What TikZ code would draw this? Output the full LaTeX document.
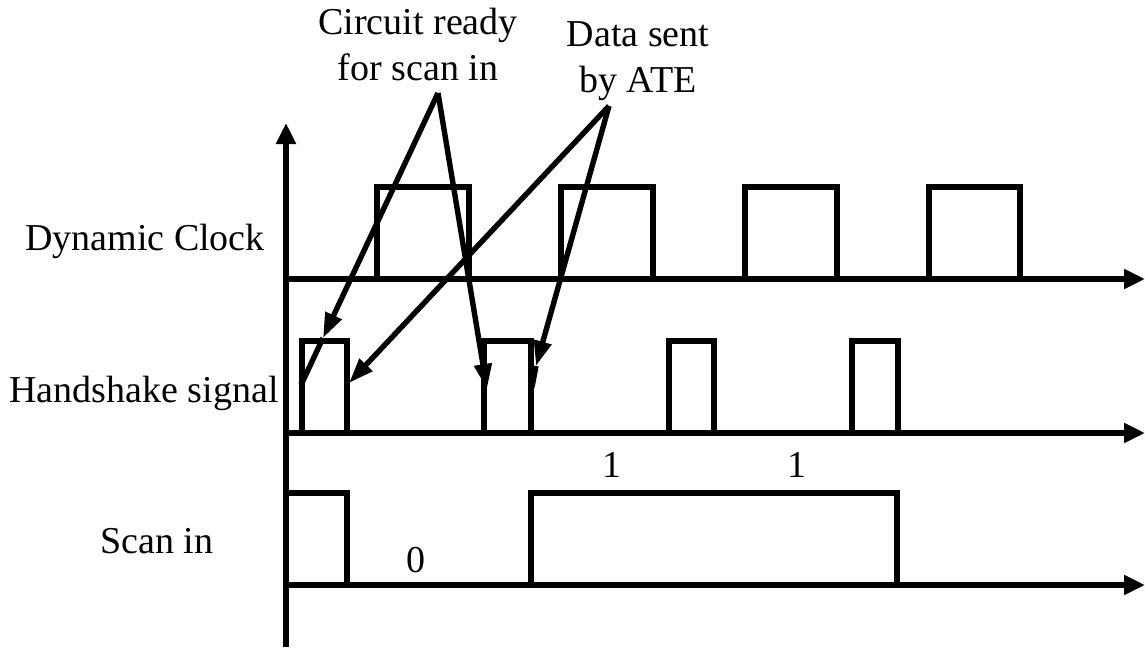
\documentclass[tikz,border=0pt]{standalone}
\usepackage{fontspec}
\setmainfont{Liberation Serif}
\usetikzlibrary{arrows.meta}
\begin{document}
\begin{tikzpicture}[x=1pt,y=-1pt,
  wave/.style={line width=5.4pt,line join=miter},
  axisline/.style={line width=5.4pt,-{Triangle[length=21pt,width=19pt]}},
  callout/.style={line width=5.4pt,-{Triangle[length=25pt,width=17pt]}},
  lbl/.style={inner sep=0pt,font=\fontsize{38}{46}\selectfont},
  ]
\useasboundingbox (0,0) rectangle (1145,648);
% axes
\coordinate (o) at (286,647);
\coordinate (ytop) at (286,123);
\draw[axisline] (o) -- (ytop);
\coordinate (c0) at (284,279);
\coordinate (c1) at (1145,279);
\coordinate (h0) at (284,433);
\coordinate (h1) at (1145,433);
\coordinate (s0) at (284,585);
\coordinate (s1) at (1145,585);
\draw[axisline] (c0) -- (c1);
\draw[axisline] (h0) -- (h1);
\draw[axisline] (s0) -- (s1);
% dynamic clock pulses
\foreach \a/\b in {377/469,561/653,745/837,929/1020}
  \draw[wave] (\a,279) -- (\a,187) -- (\b,187) -- (\b,279);
% handshake pulses
\foreach \a/\b in {302/347,484/531,669/714,852/898}
  \draw[wave] (\a,433) -- (\a,341) -- (\b,341) -- (\b,433);
% scan in
\draw[wave] (286,493) -- (347,493) -- (347,585);
\draw[wave] (531,585) -- (531,493) -- (897,493) -- (897,585);
% labels
\node[lbl,anchor=base] (dyn) at (145,250) {Dynamic Clock};
\node[lbl,anchor=base] (hs) at (144,402) {Handshake signal};
\node[lbl,anchor=base] (scan) at (157,553) {Scan in};
\node[lbl,anchor=base] (zero) at (416,572) {0};
\node[lbl,anchor=base] (one1) at (612,477) {1};
\node[lbl,anchor=base] (one2) at (797,477) {1};
\node[lbl,anchor=base,align=center] (cr) at (418,80) {Circuit ready\\for scan in};
\node[lbl,anchor=base,align=center] (ds) at (638,92) {Data sent\\by ATE};
% callout arrows
\coordinate (capex) at (438,93);
\coordinate (cmid) at (323,338);
\coordinate (cend) at (301,385);
\coordinate (cend2) at (487,389);
\coordinate (dapex) at (609,106);
\coordinate (dend) at (349,383);
\coordinate (dmid) at (536,366);
\coordinate (dend2) at (532,387);
\draw[callout] (capex) -- (cmid);
\draw[line width=5.4pt] (cmid) -- (cend);
\draw[callout] (capex) -- (cend2);
\draw[callout] (dapex) -- (dend);
\draw[callout] (dapex) -- (dmid);
\draw[line width=5.4pt] (dmid) -- (dend2);
\end{tikzpicture}
\end{document}
